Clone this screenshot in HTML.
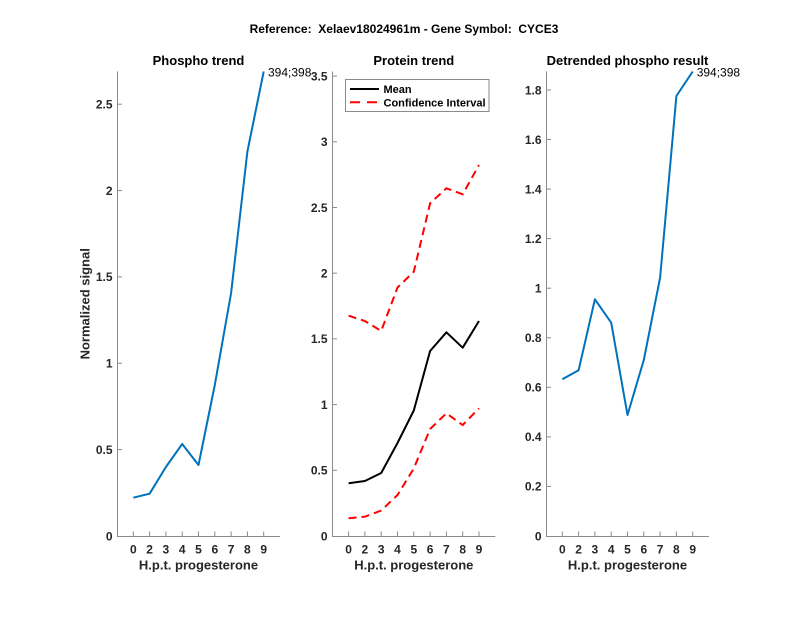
<!DOCTYPE html>
<html>
<head>
<meta charset="utf-8">
<style>
html,body{margin:0;padding:0;background:#fff;}
svg{display:block;}
text{font-family:"Liberation Sans",Arial,sans-serif;}
.t{font-size:12px;font-weight:bold;fill:#262626;}
.ti{font-size:13px;font-weight:bold;fill:#000;}
.xl{font-size:13px;font-weight:bold;fill:#262626;}
.ax{stroke:#8a8a8a;stroke-width:1;fill:none;}
.tk{stroke:#8a8a8a;stroke-width:1;}
</style>
</head>
<body>
<svg width="800" height="618" viewBox="0 0 800 618" xmlns="http://www.w3.org/2000/svg">
<rect width="800" height="618" fill="#fff"/>
<text x="404" y="33" text-anchor="middle" xml:space="preserve" style="font-size:12px;font-weight:bold;fill:#000;white-space:pre;">Reference:  Xelaev18024961m - Gene Symbol:  CYCE3</text>

<!-- LEFT PANEL -->
<text x="198.5" y="65" text-anchor="middle" class="ti">Phospho trend</text>
<path class="ax" d="M117.5,71.5 V536.5 H280"/>
<g class="tk">
<line x1="117.5" y1="449.6" x2="122" y2="449.6"/>
<line x1="117.5" y1="363.3" x2="122" y2="363.3"/>
<line x1="117.5" y1="276.9" x2="122" y2="276.9"/>
<line x1="117.5" y1="190.6" x2="122" y2="190.6"/>
<line x1="117.5" y1="104.2" x2="122" y2="104.2"/>
<line x1="133.3" y1="536" x2="133.3" y2="531.5"/>
<line x1="149.6" y1="536" x2="149.6" y2="531.5"/>
<line x1="165.9" y1="536" x2="165.9" y2="531.5"/>
<line x1="182.2" y1="536" x2="182.2" y2="531.5"/>
<line x1="198.5" y1="536" x2="198.5" y2="531.5"/>
<line x1="214.8" y1="536" x2="214.8" y2="531.5"/>
<line x1="231.1" y1="536" x2="231.1" y2="531.5"/>
<line x1="247.4" y1="536" x2="247.4" y2="531.5"/>
<line x1="263.7" y1="536" x2="263.7" y2="531.5"/>
</g>
<g class="t" text-anchor="end">
<text x="112.5" y="540.3">0</text>
<text x="112.5" y="453.9">0.5</text>
<text x="112.5" y="367.6">1</text>
<text x="112.5" y="281.2">1.5</text>
<text x="112.5" y="194.9">2</text>
<text x="112.5" y="108.5">2.5</text>
</g>
<g class="t" text-anchor="middle">
<text x="133.3" y="553.5">0</text>
<text x="149.6" y="553.5">2</text>
<text x="165.9" y="553.5">3</text>
<text x="182.2" y="553.5">4</text>
<text x="198.5" y="553.5">5</text>
<text x="214.8" y="553.5">6</text>
<text x="231.1" y="553.5">7</text>
<text x="247.4" y="553.5">8</text>
<text x="263.7" y="553.5">9</text>
</g>
<text x="198.5" y="569.5" text-anchor="middle" class="xl">H.p.t. progesterone</text>
<text transform="translate(89.5,303.8) rotate(-90)" text-anchor="middle" class="xl">Normalized signal</text>
<polyline fill="none" stroke="#0072BD" stroke-width="2" stroke-linejoin="round" points="133.3,497.7 149.6,493.7 165.9,467 182.2,444 198.5,465 214.8,385 231.1,293 247.4,151.5 263.7,71.5"/>
<text x="268" y="76.3" style="font-size:12px;fill:#000;">394;398</text>

<!-- MIDDLE PANEL -->
<text x="413.8" y="65" text-anchor="middle" class="ti">Protein trend</text>
<path class="ax" d="M332.5,71.5 V536.5 H495.3"/>
<g class="tk">
<line x1="332.5" y1="470.3" x2="337" y2="470.3"/>
<line x1="332.5" y1="404.6" x2="337" y2="404.6"/>
<line x1="332.5" y1="338.9" x2="337" y2="338.9"/>
<line x1="332.5" y1="273.2" x2="337" y2="273.2"/>
<line x1="332.5" y1="207.5" x2="337" y2="207.5"/>
<line x1="332.5" y1="141.8" x2="337" y2="141.8"/>
<line x1="332.5" y1="76.1" x2="337" y2="76.1"/>
<line x1="348.6" y1="536" x2="348.6" y2="531.5"/>
<line x1="364.9" y1="536" x2="364.9" y2="531.5"/>
<line x1="381.2" y1="536" x2="381.2" y2="531.5"/>
<line x1="397.5" y1="536" x2="397.5" y2="531.5"/>
<line x1="413.8" y1="536" x2="413.8" y2="531.5"/>
<line x1="430.1" y1="536" x2="430.1" y2="531.5"/>
<line x1="446.4" y1="536" x2="446.4" y2="531.5"/>
<line x1="462.7" y1="536" x2="462.7" y2="531.5"/>
<line x1="479" y1="536" x2="479" y2="531.5"/>
</g>
<g class="t" text-anchor="end">
<text x="327.5" y="540.3">0</text>
<text x="327.5" y="474.6">0.5</text>
<text x="327.5" y="408.9">1</text>
<text x="327.5" y="343.2">1.5</text>
<text x="327.5" y="277.5">2</text>
<text x="327.5" y="211.8">2.5</text>
<text x="327.5" y="146.1">3</text>
<text x="327.5" y="80.4">3.5</text>
</g>
<g class="t" text-anchor="middle">
<text x="348.6" y="553.5">0</text>
<text x="364.9" y="553.5">2</text>
<text x="381.2" y="553.5">3</text>
<text x="397.5" y="553.5">4</text>
<text x="413.8" y="553.5">5</text>
<text x="430.1" y="553.5">6</text>
<text x="446.4" y="553.5">7</text>
<text x="462.7" y="553.5">8</text>
<text x="479" y="553.5">9</text>
</g>
<text x="413.8" y="569.5" text-anchor="middle" class="xl">H.p.t. progesterone</text>
<polyline fill="none" stroke="#000" stroke-width="2" stroke-linejoin="round" points="348.6,483.3 364.9,481 381.2,473 397.5,443 413.8,410.5 430.1,351 446.4,332.3 462.7,347.7 479,321"/>
<polyline fill="none" stroke="#ff0000" stroke-width="2" stroke-dasharray="8,5" points="348.6,315.7 364.9,321 381.2,331 397.5,287.5 413.8,271.7 430.1,203.3 446.4,188.3 462.7,194.3 479,165"/>
<polyline fill="none" stroke="#ff0000" stroke-width="2" stroke-dasharray="8,5" points="348.6,518.3 364.9,516.7 381.2,510.5 397.5,495 413.8,468.5 430.1,429 446.4,413.3 462.7,425 479,408.3"/>
<!-- legend -->
<rect x="345.5" y="79.5" width="143.5" height="32" fill="#fff" stroke="#8a8a8a" stroke-width="1"/>
<line x1="350" y1="89" x2="379" y2="89" stroke="#000" stroke-width="2"/>
<line x1="350" y1="102.3" x2="380" y2="102.3" stroke="#ff0000" stroke-width="2" stroke-dasharray="10,7"/>
<text x="383.5" y="93" style="font-size:11px;font-weight:bold;fill:#000;">Mean</text>
<text x="383.5" y="106.3" style="font-size:11px;font-weight:bold;fill:#000;">Confidence Interval</text>

<!-- RIGHT PANEL -->
<text x="627.5" y="65" text-anchor="middle" class="ti">Detrended phospho result</text>
<path class="ax" d="M546.5,71.5 V536.5 H709"/>
<g class="tk">
<line x1="546.5" y1="486.4" x2="551" y2="486.4"/>
<line x1="546.5" y1="436.9" x2="551" y2="436.9"/>
<line x1="546.5" y1="387.3" x2="551" y2="387.3"/>
<line x1="546.5" y1="337.8" x2="551" y2="337.8"/>
<line x1="546.5" y1="288.2" x2="551" y2="288.2"/>
<line x1="546.5" y1="238.6" x2="551" y2="238.6"/>
<line x1="546.5" y1="189.1" x2="551" y2="189.1"/>
<line x1="546.5" y1="139.5" x2="551" y2="139.5"/>
<line x1="546.5" y1="90" x2="551" y2="90"/>
<line x1="562.3" y1="536" x2="562.3" y2="531.5"/>
<line x1="578.6" y1="536" x2="578.6" y2="531.5"/>
<line x1="594.9" y1="536" x2="594.9" y2="531.5"/>
<line x1="611.2" y1="536" x2="611.2" y2="531.5"/>
<line x1="627.5" y1="536" x2="627.5" y2="531.5"/>
<line x1="643.8" y1="536" x2="643.8" y2="531.5"/>
<line x1="660.1" y1="536" x2="660.1" y2="531.5"/>
<line x1="676.4" y1="536" x2="676.4" y2="531.5"/>
<line x1="692.7" y1="536" x2="692.7" y2="531.5"/>
</g>
<g class="t" text-anchor="end">
<text x="541.5" y="540.3">0</text>
<text x="541.5" y="490.7">0.2</text>
<text x="541.5" y="441.2">0.4</text>
<text x="541.5" y="391.6">0.6</text>
<text x="541.5" y="342.1">0.8</text>
<text x="541.5" y="292.5">1</text>
<text x="541.5" y="242.9">1.2</text>
<text x="541.5" y="193.4">1.4</text>
<text x="541.5" y="143.8">1.6</text>
<text x="541.5" y="94.3">1.8</text>
</g>
<g class="t" text-anchor="middle">
<text x="562.3" y="553.5">0</text>
<text x="578.6" y="553.5">2</text>
<text x="594.9" y="553.5">3</text>
<text x="611.2" y="553.5">4</text>
<text x="627.5" y="553.5">5</text>
<text x="643.8" y="553.5">6</text>
<text x="660.1" y="553.5">7</text>
<text x="676.4" y="553.5">8</text>
<text x="692.7" y="553.5">9</text>
</g>
<text x="627.5" y="569.5" text-anchor="middle" class="xl">H.p.t. progesterone</text>
<polyline fill="none" stroke="#0072BD" stroke-width="2" stroke-linejoin="round" points="562.3,379.3 578.6,370.3 594.9,299.3 611.2,322.7 627.5,415 643.8,360 660.1,277.7 676.4,96 692.7,71.5"/>
<text x="696.7" y="76.3" style="font-size:12px;fill:#000;">394;398</text>
</svg>
</body>
</html>
